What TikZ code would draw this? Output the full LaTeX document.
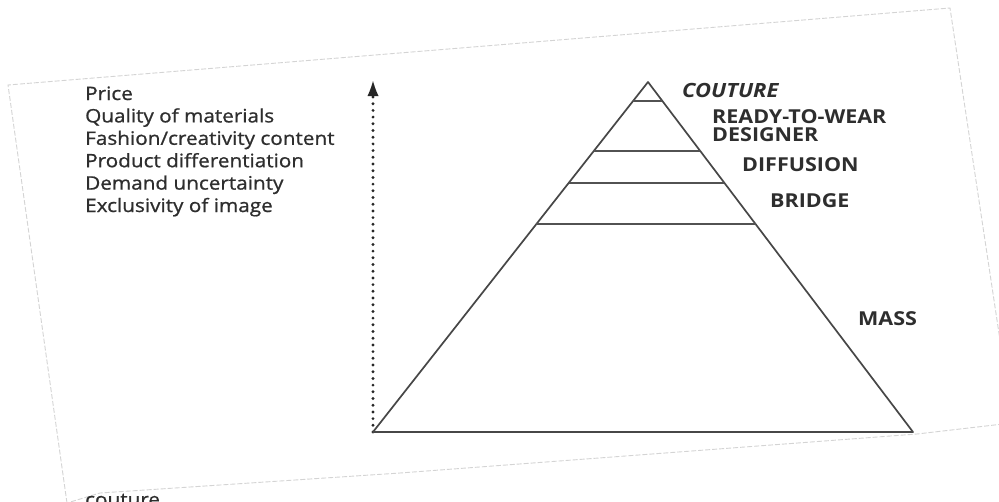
\documentclass[tikz,border=0pt]{standalone}
\usepackage{fontspec}
\setmainfont{Open Sans}[FakeStretch=1.12]
\newfontfamily\mediumfont{Open Sans}[FakeStretch=1.12,FakeBold=0.9]
\usetikzlibrary{arrows.meta,calc}
\definecolor{ink}{HTML}{2E2E2E}
\definecolor{edge}{HTML}{D4D4D4}
\tikzset{
  factor/.style={anchor=base west, inner sep=0pt, text=ink, font=\mediumfont\fontsize{18.5}{22}\selectfont},
  level/.style={anchor=base west, inner sep=0pt, text=ink, font=\fontsize{19.2}{22}\selectfont\bfseries},
  pyr/.style={draw=black!72, line width=1.7pt, line join=round},
  tier/.style={draw=black!68, line width=1.9pt},
  axisarrow/.style={draw=black!85, line width=3.2pt, line cap=round, dash pattern=on 0pt off 6.7pt,
     -{Latex[length=15pt,width=11pt,line width=0pt]}},
  pageedge/.style={draw=edge, line width=0.9pt, dash pattern=on 5pt off 2pt}
}
\begin{document}
\begin{tikzpicture}[x=1pt,y=-1pt]
\useasboundingbox (0,0) rectangle (999,501);
\fill[white] (0,0) rectangle (999,501);
\clip (0,0) rectangle (999,501);
% faint page edges of the photographed sheet
\coordinate (pTL) at (8,85);
\coordinate (pTR) at (950,8);
\coordinate (pR) at (1003,360);
\coordinate (pBR) at (1003,424);
\coordinate (pBL) at (67,503);
\draw[pageedge] (pBL) -- (pTL) -- (pTR) -- (pR);
\draw[pageedge] (pBR) -- (917,434) -- (400,473) -- (100,493) -- (pBL);
% factor list
\node[factor] (f1) at (85,100) {Price};
\node[factor] (f2) at (85,122.4) {Quality of materials};
\node[factor] (f3) at (85,144.8) {Fashion/creativity content};
\node[factor] (f4) at (85,167.2) {Product differentiation};
\node[factor] (f5) at (85,189.6) {Demand uncertainty};
\node[factor] (f6) at (85,212) {Exclusivity of image};
% dotted arrow
\coordinate (abot) at (373,432);
\coordinate (atop) at (373,81);
\draw[axisarrow] (abot) -- (atop);
% pyramid
\coordinate (apex) at (648,82);
\coordinate (bl) at (373,432);
\coordinate (br) at (913,432);
\draw[pyr] (apex) -- (bl) -- (br) -- cycle;
\foreach \t/\n in {0.0534/a,0.197/b,0.2886/c,0.4057/d}{
  \coordinate (l\n) at ($(apex)!\t!(bl)$);
  \coordinate (r\n) at ($(apex)!\t!(br)$);
  \draw[tier] (l\n) -- (r\n);
}
% level labels
\node[level, font=\fontsize{19.6}{22}\selectfont\bfseries\itshape] (couture) at (682,97) {COUTURE};
\node[level] (rtw) at (712,123) {READY-TO-WEAR};
\node[level] (designer) at (712,141.5) {DESIGNER};
\node[level] (diffusion) at (742,171) {DIFFUSION};
\node[level] (bridge) at (770,207) {BRIDGE};
\node[level] (mass) at (858,325) {MASS};
% cut-off text at the bottom of the photo
\node[factor] (cut) at (85,506) {couture};
\end{tikzpicture}
\end{document}
